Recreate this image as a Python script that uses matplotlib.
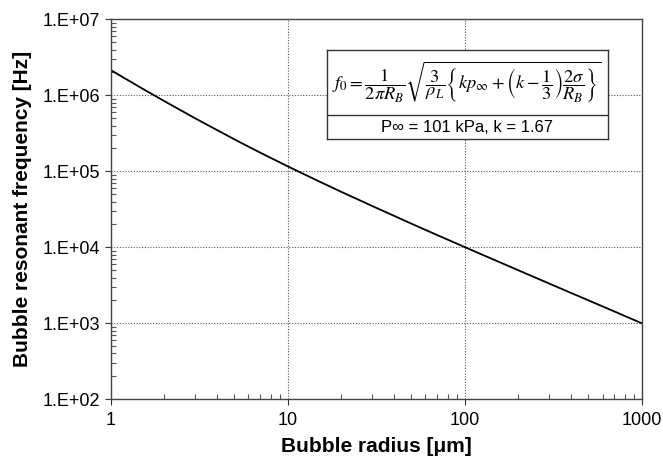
import numpy as np
import matplotlib
matplotlib.use("Agg")
from matplotlib import pyplot as plt
from matplotlib.ticker import FuncFormatter, LogLocator, NullFormatter

# values
radius_um = [1, 1.5, 2, 3, 5, 7, 10, 15, 20, 30, 50, 70, 100, 200, 300, 500, 700, 1000]
freq_hz = [2.15e6, 1.237e6, 8.44e5, 4.98e5, 2.632e5, 1.757e5, 1.162e5, 7.38e4, 5.39e4, 3.495e4,
           2.044e4, 1.445e4, 1.005e4, 5.0e3, 3.33e3, 2.0e3, 1.43e3, 1.0e3]

x_ticks = [1, 10, 100, 1000]
y_ticks = [1e2, 1e3, 1e4, 1e5, 1e6, 1e7]

plt.rcParams['font.family'] = ['Liberation Sans', 'DejaVu Sans']
plt.rcParams['mathtext.fontset'] = 'stix'

fig = plt.figure(figsize=(6.63, 4.61), dpi=100)
ax = fig.add_axes([0.167, 0.134, 0.801, 0.824])

ax.plot(radius_um, freq_hz, color='black', lw=1.3)
ax.set_xscale('log')
ax.set_yscale('log')
ax.set_xlim(1, 1000)
ax.set_ylim(1e2, 1e7)

ax.set_xticks(x_ticks)
ax.xaxis.set_major_formatter(FuncFormatter(lambda v, p: '%d' % round(v)))
ax.set_yticks(y_ticks)
ax.yaxis.set_major_formatter(FuncFormatter(lambda v, p: '1.E+%02d' % round(np.log10(v))))
ax.xaxis.set_minor_locator(LogLocator(base=10, subs=np.arange(2, 10)))
ax.yaxis.set_minor_locator(LogLocator(base=10, subs=np.arange(2, 10)))
ax.xaxis.set_minor_formatter(NullFormatter())
ax.yaxis.set_minor_formatter(NullFormatter())

ax.tick_params(which='major', direction='out', length=4, width=0.8,
	labelsize=13, colors='#333333', labelcolor='black')
ax.tick_params(which='minor', direction='in', length=3.5, width=0.8, colors='#555555')
ax.tick_params(axis='x', which='major', pad=5)

ax.grid(True, which='major', linestyle=(0, (1, 1.5)), color='#555555', lw=0.8)
for s in ax.spines.values():
	s.set_color('#444444')
	s.set_linewidth(1.0)

ax.set_xlabel('Bubble radius [\u03bcm]', fontsize=15, fontweight='bold', labelpad=6)
ax.set_ylabel('Bubble resonant frequency [Hz]', fontsize=15, fontweight='bold', labelpad=8)

# formula box
box = fig.add_axes([0.493, 0.698, 0.424, 0.193])
box.set_xticks([])
box.set_yticks([])
box.set_xlim(0, 1)
box.set_ylim(0, 1)
for s in box.spines.values():
	s.set_color('#333333')
	s.set_linewidth(1.0)
box.axhline(0.27, color='#333333', lw=1.0)
box.text(0.5, 0.635,
	r'$f_0=\dfrac{1}{2\pi R_B}\sqrt{\dfrac{3}{\rho_L}\left\{kp_\infty+\left(k-\dfrac{1}{3}\right)\dfrac{2\sigma}{R_B}\right\}}$',
	ha='center', va='center', fontsize=13.2)
box.text(0.5, 0.135, 'P\u221e = 101 kPa, k = 1.67', ha='center', va='center', fontsize=12)

fig.savefig('out.png', dpi=100)
